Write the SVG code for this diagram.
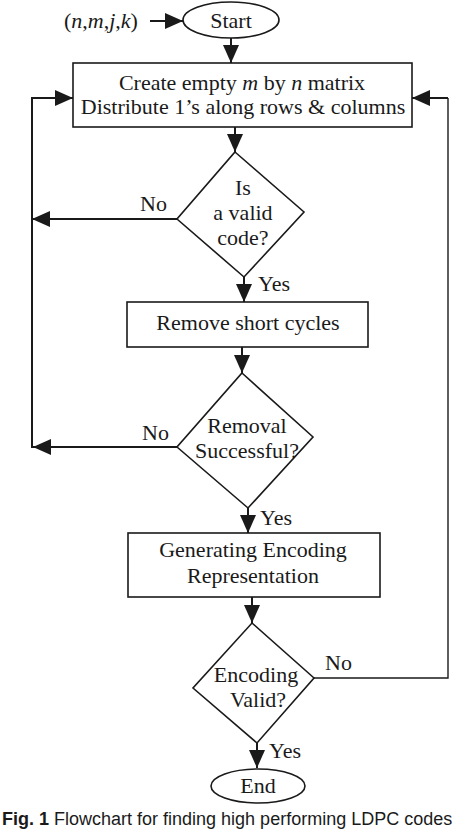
<svg xmlns="http://www.w3.org/2000/svg" width="474" height="829" viewBox="0 0 474 829">
<style>
.shape{fill:#fff;stroke:#1a1a1a;stroke-width:1.6}
.t{font-family:"Liberation Serif","Times New Roman",serif;font-size:22px;fill:#1a1a1a;text-anchor:middle}
.l{font-family:"Liberation Serif","Times New Roman",serif;font-size:22px;fill:#1a1a1a}
.c{fill:none;stroke:#1a1a1a;stroke-width:2}
.thin{fill:none;stroke:#1a1a1a;stroke-width:1.4}
.cap{font-family:"Liberation Sans",Arial,sans-serif;font-size:18px;fill:#1a1a1a}
</style>
<defs>
<marker id="ah" markerUnits="userSpaceOnUse" viewBox="0 0 18 16" markerWidth="18" markerHeight="16" refX="18" refY="8" orient="auto">
<path d="M0,0 L18,8 L0,16 Z" fill="#1a1a1a"/>
</marker>
</defs>
<rect width="474" height="829" fill="#fff"/>
<g id="connectors">
<line class="c" x1="150" y1="21" x2="183" y2="21" marker-end="url(#ah)"/>
<line class="c" x1="231" y1="38" x2="231" y2="63" marker-end="url(#ah)"/>
<line class="c" x1="235" y1="127" x2="235" y2="152" marker-end="url(#ah)"/>
<polyline class="c" points="177,219 32,219"/>
<line class="c" x1="60" y1="219" x2="32" y2="219" marker-end="url(#ah)"/>
<line class="c" x1="244" y1="277" x2="244" y2="302" marker-end="url(#ah)"/>
<line class="c" x1="242" y1="347" x2="242" y2="373" marker-end="url(#ah)"/>
<polyline class="c" points="177,447 33,447"/>
<line class="c" x1="60" y1="447" x2="33" y2="447" marker-end="url(#ah)"/>
<polyline class="c" points="32,448 32,98 73,98" marker-end="url(#ah)"/>
<line class="c" x1="248" y1="508" x2="248" y2="533" marker-end="url(#ah)"/>
<line class="c" x1="252" y1="597" x2="252" y2="623" marker-end="url(#ah)"/>
<polyline class="thin" points="314,678 448,678 448,98"/>
<line class="c" x1="448" y1="98" x2="412" y2="98" marker-end="url(#ah)"/>
<line class="c" x1="257" y1="743" x2="257" y2="768" marker-end="url(#ah)"/>
</g>
<g id="input">
<text class="l" x="64" y="28">(<tspan font-style="italic">n</tspan>,<tspan font-style="italic">m</tspan>,<tspan font-style="italic">j</tspan>,<tspan font-style="italic">k</tspan>)</text>
</g>
<g id="start">
<ellipse class="shape" cx="231" cy="20" rx="48" ry="18"/>
<text class="t" x="231" y="28">Start</text>
</g>
<g id="create">
<rect class="shape" x="73" y="63" width="339" height="64"/>
<text class="t" x="242" y="90">Create empty <tspan font-style="italic">m</tspan> by <tspan font-style="italic">n</tspan> matrix</text>
<text class="t" x="243" y="114">Distribute 1’s along rows &amp; columns</text>
</g>
<g id="valid">
<polygon class="shape" points="235,152 304,212 244,277 177,219"/>
<text class="t" x="243" y="195">Is</text>
<text class="t" x="243" y="220">a valid</text>
<text class="t" x="243" y="245">code?</text>
<text class="l" x="140" y="211">No</text>
<text class="l" x="258" y="291">Yes</text>
</g>
<g id="remove">
<rect class="shape" x="127" y="302" width="241" height="45"/>
<text class="t" x="248" y="330">Remove short cycles</text>
</g>
<g id="removal">
<polygon class="shape" points="242,373 313,437 248,508 177,447"/>
<text class="t" x="247" y="433">Removal</text>
<text class="t" x="247" y="458">Successful?</text>
<text class="l" x="142" y="440">No</text>
<text class="l" x="260" y="525">Yes</text>
</g>
<g id="generate">
<rect class="shape" x="128" y="533" width="252" height="64"/>
<text class="t" x="253" y="557">Generating Encoding</text>
<text class="t" x="253" y="583">Representation</text>
</g>
<g id="encoding">
<polygon class="shape" points="252,623 314,678 257,743 193,688"/>
<text class="t" x="256" y="682">Encoding</text>
<text class="t" x="258" y="707">Valid?</text>
<text class="l" x="325" y="670">No</text>
<text class="l" x="269" y="758">Yes</text>
</g>
<g id="end">
<ellipse class="shape" cx="258" cy="786" rx="47" ry="17"/>
<text class="t" x="258" y="793">End</text>
</g>
<text class="cap" x="2" y="825"><tspan font-weight="bold">Fig. 1</tspan>  Flowchart for finding high performing LDPC codes</text>
</svg>
